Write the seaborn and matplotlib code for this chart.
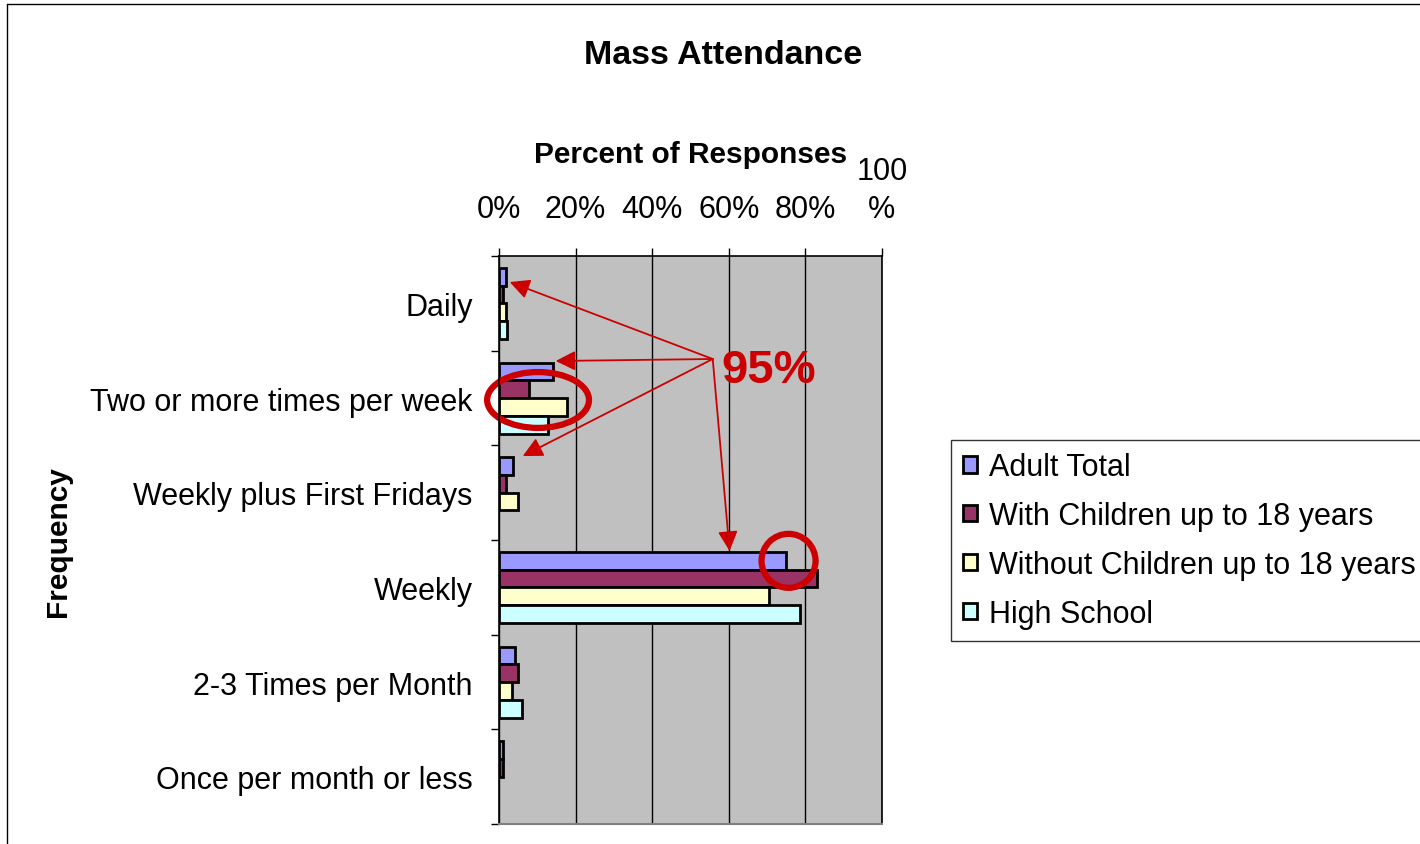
import matplotlib
matplotlib.use("Agg")
import matplotlib.pyplot as plt
import seaborn as sns
import pandas as pd
from matplotlib.patches import Ellipse, Rectangle
from matplotlib.lines import Line2D

categories = ["Daily", "Two or more times per week", "Weekly plus First Fridays",
              "Weekly", "2-3 Times per Month", "Once per month or less"]
series_names = ["Adult Total", "With Children up to 18 years",
                "Without Children up to 18 years", "High School"]
adult_total = [1.7, 14.1, 3.7, 74.9, 4.2, 1.0]
with_children = [1.0, 7.8, 1.7, 82.9, 4.9, 1.0]
without_children = [1.7, 17.8, 5.0, 70.5, 3.5, 0.0]
high_school = [2.2, 12.8, 0.0, 78.5, 6.0, 0.0]
x_ticks = [0, 20, 40, 60, 80, 100]
x_tick_labels = ["0%", "20%", "40%", "60%", "80%", "100\n%"]
colors = ["#9999FF", "#993366", "#FFFFCC", "#CCFFFF"]

rows = []
for name, vals in zip(series_names, [adult_total, with_children, without_children, high_school]):
    for c, v in zip(categories, vals):
        rows.append({"Frequency": c, "Percent": v, "Group": name})
df = pd.DataFrame(rows)

sns.set_theme(style="white")
plt.rcParams["font.family"] = ["Liberation Sans", "DejaVu Sans"]
plt.rcParams["text.color"] = "black"
plt.rcParams["xtick.color"] = "black"
plt.rcParams["ytick.color"] = "black"
plt.rcParams["axes.labelcolor"] = "black"

W, H = 1420, 845
fig = plt.figure(figsize=(W / 100, H / 100), dpi=100)
fig.patch.set_facecolor("white")
ax = fig.add_axes([499 / W, 1 - 825 / H, (882 - 499) / W, (825 - 257) / H])
ax.set_facecolor("#C0C0C0")

sns.barplot(data=df, y="Frequency", x="Percent", hue="Group", order=categories,
            hue_order=series_names, palette=colors, orient="h", width=0.75,
            edgecolor="black", linewidth=2.0, ax=ax, legend=True, saturation=1)

ax.set_xlim(0, 100)
ax.set_ylim(5.5, -0.5)
ax.set_xticks(x_ticks)
ax.set_xticklabels(x_tick_labels, fontsize=22, linespacing=1.35)
ax.xaxis.tick_top()
ax.tick_params(axis="x", which="major", top=True, bottom=False, length=6, width=1,
               color="black", pad=17, labelsize=22, labelcolor="black")
ax.set_yticks(range(len(categories)))
ax.set_yticklabels(categories, fontsize=22)
ax.tick_params(axis="y", which="major", length=0, pad=19, labelsize=22, labelcolor="black")
ax.set_yticks([i - 0.5 for i in range(len(categories) + 1)], minor=True)
ax.tick_params(axis="y", which="minor", left=True, length=6, width=1, color="black")
ax.set_xlabel("")
ax.set_ylabel("")
ax.grid(axis="x", color="black", linewidth=1)
ax.grid(axis="y", visible=False)
ax.set_axisbelow(True)
for s in ["left", "top", "right"]:
    ax.spines[s].set_color("black")
    ax.spines[s].set_linewidth(1.2)
ax.spines["bottom"].set_color("#808080")
ax.spines["bottom"].set_linewidth(1.5)

# legend
handles, labels = ax.get_legend_handles_labels()
ax.get_legend().remove()
leg = fig.legend(handles, labels, loc="upper left", bbox_to_anchor=(951 / W, 1 - 441 / H),
                 borderaxespad=0, fontsize=22, frameon=True, fancybox=False,
                 edgecolor="black", handlelength=0.45, handleheight=0.45,
                 handletextpad=0.4, labelspacing=0.62, borderpad=0.4, labelcolor="black")
leg.get_frame().set_linewidth(1)

# hide zero-length bars (their outline would otherwise show at 0)
for p in ax.patches:
    if isinstance(p, Rectangle) and p.get_height() > 0.05 and p.get_width() == 0:
        p.set_visible(False)

# texts
fig.text(723 / W, 1 - 55 / H, "Mass Attendance", ha="center", va="center",
         fontsize=24.5, fontweight="bold", color="black")
fig.text(690.5 / W, 1 - 155 / H, "Percent of Responses", ha="center", va="center",
         fontsize=21.5, fontweight="bold", color="black")
fig.text(58 / W, 1 - 542 / H, "Frequency", ha="center", va="center", rotation=90,
         fontsize=21.5, fontweight="bold", color="black")

# annotations
red = "#CC0000"
src = (55.8, 0.588)
for tgt in [(2.8, -0.225), (14.8, 0.609), (6.2, 1.613), (60.2, 2.616)]:
    ax.annotate("", xy=tgt, xytext=src, xycoords="data", textcoords="data",
                arrowprops=dict(arrowstyle="-|>", color=red, lw=1.3, mutation_scale=30,
                                shrinkA=0, shrinkB=0), annotation_clip=False)
ax.text(70.4, 0.70, "95%", color=red, fontsize=34, fontweight="bold",
        ha="center", va="center")
ax.add_patch(Ellipse((10.2, 1.021), 26.6, 0.59, fill=False, edgecolor=red, lw=4.5,
                     clip_on=False))
ax.add_patch(Ellipse((75.6, 2.72), 14.1, 0.57, fill=False, edgecolor=red, lw=4.5,
                     clip_on=False))

# figure border
fig.add_artist(Line2D([7 / W, 1.0], [1 - 5 / H, 1 - 5 / H], color="black", lw=1,
                      transform=fig.transFigure))
fig.add_artist(Line2D([7 / W, 7 / W], [0, 1 - 5 / H], color="black", lw=1,
                      transform=fig.transFigure))

fig.savefig("out.png", dpi=100)
